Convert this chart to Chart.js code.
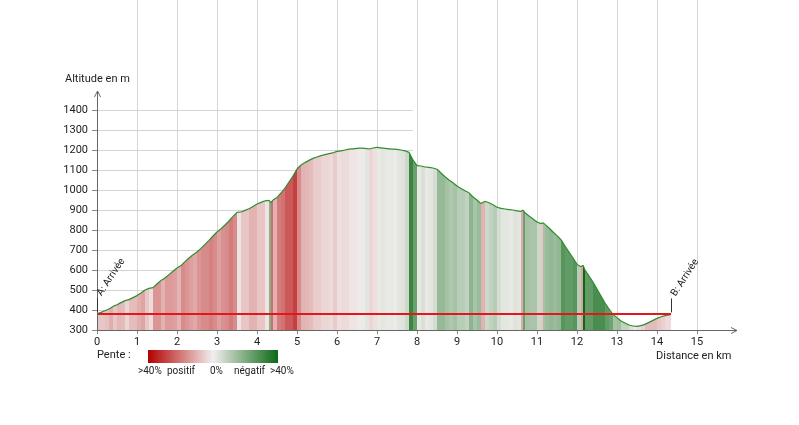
<!DOCTYPE html>
<html>
<head>
<meta charset="utf-8">
<script src="https://cdn.jsdelivr.net/npm/chart.js@4.4.1/dist/chart.umd.min.js"></script>
<style>
  body { margin: 0; background: #fff; font-family: Roboto, "Noto Sans", sans-serif; }
  #wrap { position: relative; width: 799px; height: 425px; }
  .lbl { position: absolute; font-size: 11px; color: #222; white-space: nowrap; line-height: 12px; }
  .small { font-size: 10px; }
  #gradient {
    position: absolute; left: 148px; top: 350px; width: 130px; height: 13px;
    background: linear-gradient(to right, rgb(180,0,0), rgb(242,238,238) 50%, rgb(10,105,20));
  }
</style>
</head>
<body>
<div id="wrap">
  <canvas id="profil"></canvas>
  <div class="lbl" style="left:65px;top:73px;">Altitude en m</div>
  <div class="lbl" style="left:656px;top:350px;">Distance en km</div>
  <div class="lbl" style="left:97px;top:349px;">Pente :</div>
  <div id="gradient"></div>
  <div class="lbl small" style="left:138px;top:365px;">&gt;40%</div>
  <div class="lbl small" style="left:167px;top:365px;">positif</div>
  <div class="lbl small" style="left:210px;top:365px;">0%</div>
  <div class="lbl small" style="left:234px;top:365px;">négatif</div>
  <div class="lbl small" style="left:270px;top:365px;">&gt;40%</div>
</div>
<script>
// profil : distance (km) / altitude (m)
const distances = [
  0.0, 0.1, 0.2, 0.3, 0.4, 0.5, 0.6, 0.7, 0.8, 0.9,
  1.0, 1.1, 1.2, 1.3, 1.4, 1.5, 1.6, 1.7, 1.8, 1.9,
  2.0, 2.1, 2.2, 2.3, 2.4, 2.5, 2.6, 2.7, 2.8, 2.9,
  3.0, 3.1, 3.2, 3.3, 3.4, 3.5, 3.6, 3.7, 3.8, 3.9,
  4.0, 4.1, 4.2, 4.3, 4.35, 4.4, 4.5, 4.6, 4.7, 4.8, 4.9,
  5.0, 5.1, 5.2, 5.3, 5.4, 5.5, 5.6, 5.7, 5.8, 5.9,
  6.0, 6.1, 6.2, 6.3, 6.4, 6.5, 6.6, 6.7, 6.8, 6.9,
  7.0, 7.1, 7.2, 7.3, 7.4, 7.5, 7.6, 7.7, 7.8, 7.9,
  8.0, 8.1, 8.2, 8.3, 8.4, 8.5, 8.6, 8.7, 8.8, 8.9,
  9.0, 9.1, 9.2, 9.3, 9.4, 9.5, 9.6, 9.7, 9.8, 9.9,
  10.0, 10.1, 10.2, 10.3, 10.4, 10.5, 10.6, 10.65, 10.7, 10.8, 10.9,
  11.0, 11.1, 11.15, 11.2, 11.3, 11.4, 11.5, 11.6, 11.7, 11.8, 11.9,
  12.0, 12.1, 12.15, 12.2, 12.3, 12.4, 12.5, 12.6, 12.7, 12.8, 12.9,
  13.0, 13.1, 13.2, 13.3, 13.4, 13.5, 13.6, 13.7, 13.8, 13.9,
  14.0, 14.1, 14.2, 14.3, 14.35
];
const altitudes = [
  380, 388, 396, 405, 418, 426, 437, 447, 452, 462,
  472, 485, 500, 508, 512, 530, 548, 560, 577, 594,
  610, 622, 642, 660, 676, 690, 708, 728, 748, 770,
  790, 806, 825, 845, 868, 888, 890, 898, 906, 918,
  930, 938, 946, 948, 937, 950, 962, 985, 1010, 1040, 1070,
  1105, 1125, 1137, 1148, 1158, 1165, 1172, 1177, 1182, 1186,
  1193, 1196, 1200, 1204, 1206, 1208, 1209, 1208, 1205, 1210,
  1213, 1211, 1208, 1206, 1204, 1203, 1200, 1196, 1188, 1150,
  1122, 1120, 1115, 1113, 1110, 1104, 1085, 1066, 1050, 1036,
  1020, 1008, 996, 986, 965, 950, 932, 944, 936, 926,
  914, 908, 905, 902, 900, 896, 893, 900, 886, 870, 855,
  840, 832, 836, 828, 810, 790, 772, 752, 720, 690, 660,
  628, 616, 624, 600, 570, 540, 505, 470, 435, 405, 378,
  362, 345, 335, 325, 320, 318, 322, 328, 338, 348,
  358, 366, 372, 376, 378
];
const altitudeDepart = 380;
const xTickMax = 15;
const yTickMin = 300;
const yTickMax = 1400;
const grilleFinKm = 7.9;
const reperesKm = [0, 14.35];
const reperesTexte = ['A: Arrivée', 'B: Arrivée'];

function couleurPente(p) {
  const t = Math.min(Math.abs(p) / 48, 1);
  const base = [242, 238, 238];
  const fin = p >= 0 ? [180, 0, 0] : [10, 105, 20];
  const c = base.map((b, i) => Math.round(b + (fin[i] - b) * t));
  return `rgb(${c[0]}, ${c[1]}, ${c[2]})`;
}

const decor = {
  id: 'decor',
  beforeDatasetsDraw(chart) {
    const { ctx, scales: { x, y } } = chart;
    const x0 = x.getPixelForValue(0);
    const x1 = x.getPixelForValue(grilleFinKm);
    ctx.save();
    ctx.lineWidth = 1;
    y.ticks.forEach(t => {
      const py = Math.round(y.getPixelForValue(t.value)) + 0.5;
      if (t.value > yTickMin) {
        ctx.strokeStyle = '#d4d4d4';
        ctx.beginPath(); ctx.moveTo(x0, py); ctx.lineTo(x1, py); ctx.stroke();
      }
      ctx.strokeStyle = '#888';
      ctx.beginPath(); ctx.moveTo(x0 - 5, py); ctx.lineTo(x0, py); ctx.stroke();
    });
    ctx.restore();
  },
  afterDatasetsDraw(chart) {
    const { ctx, scales: { x, y } } = chart;
    const x0 = Math.round(x.getPixelForValue(0)) + 0.5;
    const yb = Math.round(y.getPixelForValue(yTickMin)) + 0.5;
    const xEnd = x.right;
    ctx.save();
    ctx.strokeStyle = '#666';
    ctx.lineWidth = 1;
    // axe Y avec fleche
    ctx.beginPath(); ctx.moveTo(x0, yb); ctx.lineTo(x0, 91); ctx.stroke();
    ctx.beginPath(); ctx.moveTo(x0 - 3, 97); ctx.lineTo(x0, 91); ctx.lineTo(x0 + 3, 97); ctx.stroke();
    // axe X avec fleche
    ctx.beginPath(); ctx.moveTo(x0, yb); ctx.lineTo(xEnd, yb); ctx.stroke();
    ctx.beginPath(); ctx.moveTo(xEnd - 6, yb - 3); ctx.lineTo(xEnd, yb); ctx.lineTo(xEnd - 6, yb + 3); ctx.stroke();

    // reperes A / B
    ctx.font = '10px Roboto, sans-serif';
    ctx.fillStyle = '#222';
    ctx.textAlign = 'left';
    ctx.textBaseline = 'middle';
    reperesKm.forEach((km, i) => {
      const idx = distances.indexOf(km);
      const px = Math.round(x.getPixelForValue(km)) + 0.5;
      const py = y.getPixelForValue(altitudes[idx]);
      ctx.strokeStyle = '#333';
      ctx.beginPath(); ctx.moveTo(px, py - 2); ctx.lineTo(px, py - 16); ctx.stroke();
      ctx.save();
      ctx.translate(px + 2, py - 19);
      ctx.rotate(-57 * Math.PI / 180);
      ctx.fillText(reperesTexte[i], 0, 0);
      ctx.restore();
    });
    ctx.restore();
  }
};

const points = distances.map((d, i) => ({ x: d, y: altitudes[i] }));

new Chart(document.getElementById('profil'), {
  type: 'line',
  data: {
    datasets: [
      {
        data: [{ x: 0, y: altitudeDepart }, { x: distances[distances.length - 1], y: altitudeDepart }],
        borderColor: '#e3161b',
        borderWidth: 1.8,
        pointRadius: 0,
        fill: false,
        order: 1
      },
      {
        data: points,
        borderColor: '#2e8b2e',
        borderWidth: 1.2,
        pointRadius: 0,
        tension: 0,
        fill: { value: yTickMin },
        backgroundColor: '#eee',
        segment: {
          backgroundColor: c => {
            const dz = c.p1.parsed.y - c.p0.parsed.y;
            const dx = (c.p1.parsed.x - c.p0.parsed.x) * 1000;
            return couleurPente(dz / dx * 100);
          }
        },
        order: 2
      }
    ]
  },
  options: {
    responsive: true,
    maintainAspectRatio: false,
    animation: false,
    layout: { autoPadding: false, padding: { left: 0, right: 62, top: 0, bottom: 0 } },
    plugins: { legend: { display: false }, tooltip: { enabled: false } },
    scales: {
      x: {
        type: 'linear',
        min: 0,
        max: 16,
        afterBuildTicks: s => { s.ticks = s.ticks.filter(t => t.value <= xTickMax); },
        afterFit: s => { s.height = 95; s.paddingLeft = 0; s.paddingRight = 0; },
        ticks: { stepSize: 1, padding: 2, color: '#222', font: { family: 'Roboto', size: 11 } },
        grid: {
          color: c => (c.tick && c.tick.value > 0) ? '#d6d6d6' : 'rgba(0,0,0,0)',
          tickColor: '#888',
          tickLength: 4
        },
        border: { display: false }
      },
      y: {
        min: yTickMin,
        max: 1950,
        afterBuildTicks: s => { s.ticks = s.ticks.filter(t => t.value <= yTickMax); },
        afterFit: s => { s.width = 97; s.paddingTop = 0; s.paddingBottom = 0; },
        ticks: {
          stepSize: 100, padding: 9, color: '#222', font: { family: 'Roboto', size: 11 },
          callback: v => String(v)
        },
        grid: { display: false, drawTicks: false },
        border: { display: false }
      }
    }
  },
  plugins: [decor]
});
</script>
</body>
</html>
